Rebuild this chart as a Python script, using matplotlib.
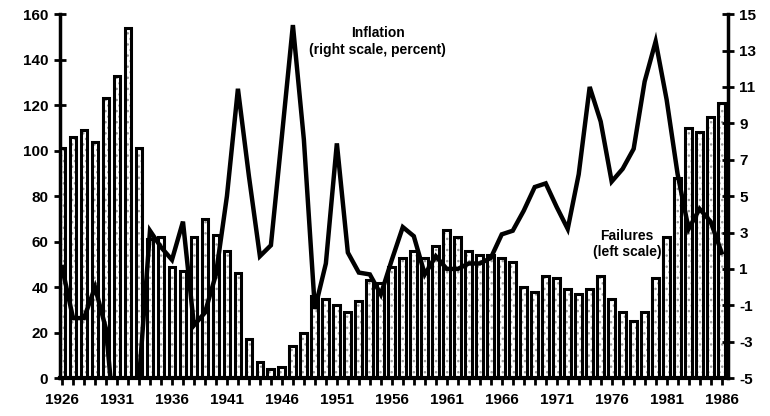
import matplotlib.pyplot as plt
import numpy as np

plt.rcParams['font.family'] = ['Liberation Sans', 'DejaVu Sans']
plt.rcParams['font.weight'] = 'bold'

years = np.arange(1926, 1987)

# business failures (left scale)
failures = [101, 106, 109, 104, 123, 133, 154, 101, 61, 62,
            49, 47, 62, 70, 63, 56, 46, 17, 7, 4,
            5, 14, 20, 36, 35, 32, 29, 34, 43, 42,
            49, 53, 56, 53, 58, 65, 62, 56, 54, 54,
            53, 51, 40, 38, 45, 44, 39, 37, 39, 45,
            35, 29, 25, 29, 44, 62, 88, 110, 108, 115,
            121]

# inflation, percent (right scale)
inflation = [1.1, -1.7, -1.7, 0.0, -2.3, -9.0, -9.9, -5.1, 3.1, 2.2,
             1.5, 3.6, -2.1, -1.4, 0.7, 5.0, 10.9, 6.1, 1.7, 2.3,
             8.3, 14.4, 8.1, -1.2, 1.3, 7.9, 1.9, 0.8, 0.7, -0.4,
             1.5, 3.3, 2.8, 0.7, 1.7, 1.0, 1.0, 1.3, 1.3, 1.6,
             2.9, 3.1, 4.2, 5.5, 5.7, 4.4, 3.2, 6.2, 11.0, 9.1,
             5.8, 6.5, 7.6, 11.3, 13.5, 10.3, 6.2, 3.2, 4.3, 3.6,
             1.9]

fig = plt.figure(figsize=(7.7, 4.16), dpi=100)
ax = fig.add_axes([0.078, 0.091, 0.867, 0.875])

# bars: dotted fill, then heavy outline on top
ax.bar(years, failures, width=0.62, color='white', hatch='...',
       edgecolor='#9a9a9a', linewidth=0, zorder=2)
ax.bar(years, failures, width=0.62, fill=False, edgecolor='black',
       linewidth=2.2, zorder=3)

ax.set_xlim(1925.82, 1986.55)
ax.set_ylim(0, 160)
ax.set_yticks(np.arange(0, 161, 20))
ax.set_xticks(years)
ax.set_xticklabels([str(y) if (y - 1926) % 5 == 0 else '' for y in years])

for s in ['top', 'right']:
    ax.spines[s].set_visible(False)
ax.spines['left'].set_linewidth(2.5)
ax.spines['bottom'].set_linewidth(3)

ax.tick_params(axis='y', direction='inout', length=9, width=2,
               labelsize=11, pad=4)
ax.tick_params(axis='x', direction='out', length=5, width=2,
               labelsize=11, pad=6)

ax2 = ax.twinx()
ax2.plot(years, inflation, color='black', linewidth=3.2, zorder=4,
         solid_joinstyle='miter')
ax2.set_ylim(-5, 15)
ax2.set_yticks(np.arange(-5, 16, 2))
ax2.set_yticklabels([('-' + str(abs(v))) if v < 0 else str(v)
                     for v in np.arange(-5, 16, 2)])
for s in ['top', 'left', 'bottom']:
    ax2.spines[s].set_visible(False)
ax2.spines['right'].set_linewidth(2.5)
ax2.tick_params(axis='y', direction='inout', length=9, width=2,
                labelsize=11, pad=4)

ax.text(1954.7, 148, 'Inflation\n(right scale, percent)', ha='center',
        va='center', fontsize=10, linespacing=1.2)
ax.text(1977.4, 59, 'Failures\n(left scale)', ha='center', va='center',
        fontsize=10, linespacing=1.2)

fig.savefig('out.png', dpi=100)
